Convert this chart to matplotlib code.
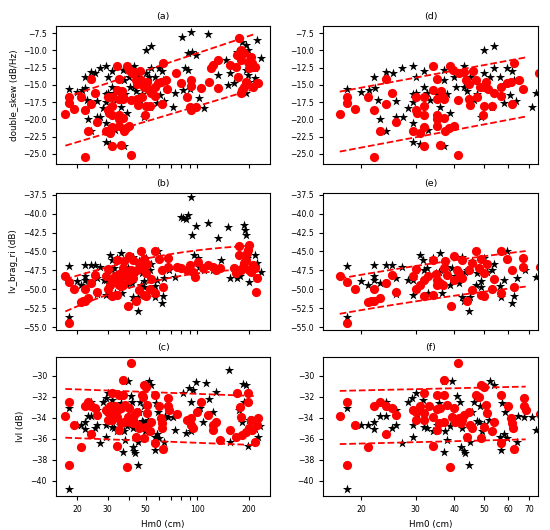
import numpy as np
import matplotlib
matplotlib.use("Agg")
import matplotlib.pyplot as plt

# ---------------- data ----------------
# panel (a)/(d): double_skew
a_star_x = [17.9, 20, 21.2, 22.0, 22.2, 22.6, 23.0, 24.0, 24.0, 25.3,
            26.0, 26.0, 27.1, 27.2, 28.3, 29.4, 29.4, 29.5, 29.5, 29.4,
            30.1, 30.1, 31.0, 32.0, 32.0, 32.6, 33.0, 33.4, 35.2, 36.1,
            37.0, 37.2, 37.2, 37.9, 38.9, 39.9, 40.7, 43.0, 43.0, 44.0,
            45.2, 46.4, 47.5, 48.8, 49.9, 49.9, 52.5, 53.1, 53.8, 54.0,
            56.6, 56.9, 58.1, 59.6, 60.7, 61.8, 62.8, 63.8, 71.8, 74.0,
            81.4, 92.2, 88.1, 93.3, 98, 85, 87.7, 82.7, 90.4, 102,
            110, 116, 131.5, 147, 151, 155, 163, 171, 183, 192,
            197, 201, 192, 197, 201, 217, 222, 234, 217, 192, 188]
a_star_y = [-15.6, -16.0, -15.7, -13.9, -15.5, -17.2, -19.9, -21.7, -13.1, -13.3,
            -17.3, -19.7, -12.6, -19.7, -18.3, -12.3, -16.3, -17.4, -20.5, -23.2,
            -13.9, -16.1, -23.5, -12.9, -15.3, -16.1, -21.5, -17.2, -16.3, -18.2,
            -12.8, -14.3, -23.8, -16.3, -19.1, -13.9, -15.3, -12.3, -15.3, -15.8,
            -13.8, -17.2, -16.3, -19.7, -9.9, -13.3, -13.9, -18.2, -9.3, -12.6,
            -13.9, -16.3, -17.6, -12.6, -16.4, -12.9, -14.3, -17.3, -18.2, -16.2,
            -7.98, -7.35, -10.4, -10.16, -10.64, -12.57, -12.82, -15.72, -15.62, -16.92,
            -18.28, -7.65, -13.54, -11.37, -15.0, -13.3, -14.75, -10.16, -8.71, -9.19,
            -9.92, -11.37, -12.82, -13.54, -14.51, -12.57, -8.47, -11.12, -14.02, -16.2, -15.33]
a_circ_x = [17.0, 17.9, 17.9, 19.0, 21.0, 22.0, 22.0, 23.0, 24.0, 24.0,
            25.2, 26.0, 29.4, 30.1, 30.1, 30.4, 31.0, 32.0, 32.0, 32.0,
            32.0, 32.0, 34.2, 34.2, 35.1, 35.1, 35.1, 35.1, 35.1, 36.1,
            36.4, 36.8, 37.0, 37.0, 37.5, 38.5, 38.9, 39.7, 39.9, 41.2,
            41.2, 41.6, 43.0, 43.9, 44.6, 44.6, 45.2, 46.2, 47.1, 47.5,
            48.6, 49.7, 49.9, 49.9, 50.9, 51.4, 53.1, 54.0, 56.9, 56.9,
            59.3, 61.4, 61.8, 62.8, 65.2, 66.9, 75.5,
            80.8, 86.8, 92.2, 92.2, 90.4, 92.2, 98, 104.3, 117.4, 120,
            123, 131.5, 131.5, 155, 167, 171, 172, 175, 179, 179,
            186, 188, 192, 197, 201, 204, 208, 211, 217, 222, 227, 183, 179]
a_circ_y = [-19.2, -16.7, -17.6, -18.5, -16.7, -18.6, -25.5, -21.6, -14.2, -17.7,
            -16.2, -20.4, -21.6, -16.8, -18.6, -19.1, -22.0, -16.8, -18.1, -19.3,
            -21.1, -23.8, -12.2, -15.7, -14.2, -17.0, -19.3, -19.9, -21.0, -23.7,
            -15.8, -16.7, -17.0, -19.8, -21.6, -21.3, -12.2, -12.8, -21.0, -25.1,
            -17.2, -13.2, -13.1, -14.3, -14.8, -17.0, -17.9, -12.9, -14.3, -16.7,
            -15.3, -19.3, -18.0, -15.3, -14.6, -15.6, -18.0, -16.2, -15.3, -16.6,
            -14.7, -14.5, -17.7, -11.8, -14.3, -15.6, -13.3,
            -14.75, -16.68, -14.27, -15.14, -18.13, -18.62, -18.13, -15.47, -14.51, -12.57,
            -12.09, -11.37, -15.47, -12.09, -12.33, -10.64, -13.78, -8.22, -9.92, -11.37,
            -10.4, -15.23, -14.51, -11.61, -12.57, -11.0, -11.85, -15.23, -12.33, -14.66,
            -14.75, -15.72, -16.2]

# panel (b)/(e): lv_brag_ri
b_star_x = [17.9, 17.9, 20, 21, 22, 22, 22, 23, 24, 25.2,
            26, 26, 27.1, 28.4, 29.4, 29.4, 30.1, 30.4, 31, 31.7,
            32, 32.6, 33, 34.2, 35, 35.8, 36.1, 36.6, 37, 37.9,
            38.9, 39.4, 40.4, 41.6, 42.4, 42.4, 43, 43.5, 44, 44.9,
            45.2, 45.8, 47.1, 47.5, 49.1, 49.1, 49.9, 51.2, 53.1, 53.8,
            56.6, 56.9, 57, 58.1, 59.3, 61.8, 62.8, 64.2, 68, 74,
            80, 82.7, 85.4, 88.5, 92.2, 93.6, 98, 95.4, 100.5, 102,
            110, 116, 131.5, 138, 151.6, 155, 171, 177, 188, 190,
            192, 195.6, 201, 183.5, 217, 222, 234, 163, 123]
b_star_y = [-46.9, -53.6, -48.9, -49.4, -46.8, -48.2, -48.8, -49.2, -46.8, -46.8,
            -48.5, -50.6, -47.1, -48.8, -48.8, -50.7, -47.4, -49.9, -45.5, -46.1,
            -47.4, -47.2, -50.5, -45.9, -47.9, -47.7, -45.2, -50.5, -47.4, -47.0,
            -49.4, -47.2, -48.3, -49.2, -45.7, -51.0, -51.6, -47.7, -47.4, -52.8,
            -51.0, -46.3, -49.4, -47.9, -48.9, -49.7, -45.9, -47.7, -47.4, -46.6,
            -49.6, -51.0, -45.0, -48.8, -45.0, -51.8, -50.9, -48.5, -47.4, -48.4,
            -40.4, -40.6, -40.75, -40.2, -37.85, -42.8, -41.7, -45.46, -45.9, -47.0,
            -47.44, -41.28, -43.26, -46.1, -41.72, -48.5, -48.5, -48.3, -41.5, -42.16,
            -42.82, -45.9, -48.98, -47.22, -45.46, -46.56, -47.66, -47.44, -47.44]
b_circ_x = [17.0, 17.9, 17.9, 19, 21, 22, 23, 22, 24, 25.2,
            26, 29.4, 30.1, 30.1, 31, 32, 32, 33, 34.2, 34.2,
            35, 35.1, 35.1, 36.1, 36.8, 37, 37.5, 37.9, 39.2, 39.9,
            39.9, 41, 41.6, 42.4, 42.4, 44, 44.6, 45.8, 45.8, 47.1,
            48.3, 49.1, 49.1, 49.9, 49.9, 51.2, 53.8, 53.1, 57, 57,
            59.6, 61.8, 62.8, 67, 67, 76, 21.5,
            80.8, 86.8, 90.4, 94.7, 96.7, 100.5, 108, 115.3, 123, 129,
            136, 175, 179, 183.5, 188, 192, 195.6, 197, 201, 206,
            211, 217, 224, 219, 171, 163, 167, 201, 175]
b_circ_y = [-48.3, -49.0, -54.5, -49.9, -51.7, -51.6, -51.2, -49.9, -49.2, -48.1,
            -50.3, -48.3, -47.35, -49.9, -49.4, -48.8, -50.9, -48.2, -46.1, -50.7,
            -48.0, -48.8, -49.4, -49.1, -49.4, -47.2, -46.2, -48.1, -52.2, -45.6,
            -48.8, -47.4, -47.9, -46.1, -48.5, -51.5, -47.4, -46.5, -50.1, -44.9,
            -47.2, -46.0, -50.8, -50.9, -47.9, -46.6, -48.6, -49.9, -45.0, -50.5,
            -46.0, -47.4, -49.7, -45.8, -47.1, -47.0, -51.6,
            -47.22, -47.44, -46.78, -47.66, -48.32, -46.34, -47.22, -46.78, -47.0, -47.44,
            -47.22, -45.46, -47.44, -47.0, -46.56, -46.12, -45.24, -44.8, -47.44, -47.66,
            -46.78, -47.22, -48.54, -50.3, -47.44, -47.22, -47.88, -44.14, -44.27]

# panel (c)/(f): lvl
c_star_x = [17.9, 17.9, 20, 21, 22, 22, 23, 24, 24, 25.2,
            26, 26, 27.1, 28.3, 29.3, 29.4, 29.4, 30.1, 30.4, 31.7,
            32, 32, 32.6, 34.2, 35.2, 35.8, 37, 37.2, 37.5, 37.9,
            38.9, 39.4, 39.9, 41, 41.8, 42, 42.4, 43, 43.3, 44.9,
            45.2, 45.8, 46.4, 47.5, 48.1, 48.7, 49.3, 49.9, 51.8, 52.5,
            53.8, 56.6, 56.9, 57.2, 58.1, 58.8, 59.6, 62.8, 64.2, 64.5,
            67.5, 71.8, 74,
            82, 85.5, 89.7, 91.8, 94.7, 98, 103.6, 113, 117.4, 129,
            153, 155, 185, 191, 197, 217, 232, 227, 175, 181,
            188, 92, 108, 123, 201]
c_star_y = [-33.1, -40.8, -34.7, -34.7, -34.4, -35.1, -33.8, -32.45, -33.8, -35.0,
            -34.7, -33.25, -36.4, -32.45, -32.1, -35.8, -34.7, -31.66, -33.6, -32.3,
            -34.9, -31.6, -35.0, -35.3, -34.7, -32.55, -37.3, -30.5, -35.3, -36.1,
            -34.8, -30.5, -34.1, -31.9, -32.45, -36.75, -35.0, -37.2, -37.4, -38.5,
            -36.3, -33.4, -32.45, -34.3, -34.4, -32.9, -35.3, -34.6, -34.2, -30.5,
            -30.9, -35.8, -37.1, -32.6, -35.5, -33.4, -35.96, -37.0, -36.3, -33.8,
            -33.9, -33.95, -35.2,
            -31.66, -35.48, -31.18, -32.45, -31.34, -30.54, -33.09, -30.7, -32.23, -31.5,
            -29.43, -36.27, -30.8, -30.86, -36.69, -35.1, -34.78, -35.8, -33.25, -34.36,
            -32.45, -35.3, -34.4, -33.4, -34.2]
c_circ_x = [17.0, 17.9, 17.9, 19, 21, 22, 23, 24, 24.1, 25.2,
            26, 29.4, 30.1, 30.1, 31, 32, 32, 32, 33.2, 34.2,
            34.2, 35.1, 35.1, 35.1, 35.8, 36.1, 37, 37, 37.2, 37.9,
            38.9, 39.4, 39.9, 40.4, 41.2, 41.6, 42, 42.4, 43, 44,
            44.6, 45.2, 45.8, 47.3, 48.1, 49.1, 49.1, 49.9, 49.9, 50.9,
            51.2, 53.1, 53.8, 56.9, 56.9, 59.9, 61.4, 61.8, 62.2, 62.8,
            67.5, 67.5, 68.4, 76,
            86.8, 92.2, 92.2, 94.7, 99, 105, 116, 123, 123, 129,
            136, 155, 171, 177, 179, 181, 192, 196, 197, 201,
            206, 208, 217, 222, 227, 167]
c_circ_y = [-33.8, -32.45, -38.5, -34.7, -36.75, -32.9, -32.45, -35.5, -32.9, -33.1,
            -33.7, -33.25, -34.2, -33.4, -32.9, -31.66, -33.57, -34.2, -32.9, -36.7,
            -33.9, -31.8, -35.16, -33.2, -34.5, -33.1, -30.4, -31.8, -34.4, -32.8,
            -38.66, -33.9, -33.1, -34.4, -28.8, -34.0, -34.5, -34.2, -33.7, -35.8,
            -33.4, -34.7, -35.0, -31.8, -31.97, -30.86, -35.96, -31.1, -34.9, -32.77,
            -33.57, -35.3, -34.4, -31.8, -36.4, -32.9, -34.0, -34.5, -35.0, -37.0,
            -32.1, -32.9, -33.25, -33.6,
            -34.2, -34.04, -34.68, -35.0, -33.41, -32.45, -33.73, -34.68, -35.16, -34.36,
            -36.11, -35.16, -31.66, -32.93, -33.89, -35.64, -35.32, -31.66, -32.45, -35.0,
            -34.2, -35.16, -36.27, -34.68, -34.04, -35.8]

# dashed band coefficients: y = c0 + c1*log10(x) + c2*log10(x)^2  (upper, lower)
band_a = [(-27.01, 8.31, 0.0), (-32.96, 7.45, 0.0)]
band_d = [(-26.05, 8.2, 0.0), (-34.99, 8.4, 0.0)]
band_b = [(-61.81, 14.18, -2.85), (-72.29, 21.40, -4.60)]
band_e = [(-60.47, 12.13, -2.0), (-65.07, 12.08, -2.0)]
band_c = [(-30.49, -0.61, 0.0), (-35.11, -0.636, 0.0)]
band_f = [(-32.26, 0.678, 0.0), (-37.42, 0.744, 0.0)]
band_range_left = (17.0, 214.0)
band_range_right = (17.0, 68.4)

titles = ["(a)", "(b)", "(c)", "(d)", "(e)", "(f)"]
ylabels = ["double_skew (dB/Hz)", "lv_brag_ri (dB)", "lvl (dB)"]
left_ticks = [20, 30, 50, 100, 200]
left_minor = [40, 60, 70, 80, 90]
right_ticks = [20, 30, 40, 50, 60, 70]
ylims = [(-26.45, -6.45), (-55.37, -37.28), (-41.46, -28.19)]
yticks = [[-25.0, -22.5, -20.0, -17.5, -15.0, -12.5, -10.0, -7.5],
          [-55.0, -52.5, -50.0, -47.5, -45.0, -42.5, -40.0, -37.5],
          [-40, -38, -36, -34, -32, -30]]

# ---------------- figure ----------------
fig = plt.figure(figsize=(5.5, 5.3), dpi=100)
lefts = [56 / 550, 323 / 550]
widths = [214 / 550, 215 / 550]
rows = [(26, 164), (193, 330), (357, 496)]

data = [(a_star_x, a_star_y, a_circ_x, a_circ_y),
        (b_star_x, b_star_y, b_circ_x, b_circ_y),
        (c_star_x, c_star_y, c_circ_x, c_circ_y)]
bands = [(band_a, band_d), (band_b, band_e), (band_c, band_f)]

TICK_FS = 5.6
LAB_FS = 6.3


def draw_band(ax, coefs, xr):
    xx = np.geomspace(xr[0], xr[1], 100)
    L = np.log10(xx)
    for c0, c1, c2 in coefs:
        ax.plot(xx, c0 + c1 * L + c2 * L ** 2, color="red", ls="--", lw=1.3, zorder=3,
                scalex=False, scaley=False)


bottom_right = None
for r in range(3):
    top, bot = rows[r]
    for col in range(2):
        ax = fig.add_axes([lefts[col], 1 - bot / 530, widths[col], (bot - top) / 530])
        sx, sy, cx, cy = data[r]
        ax.scatter(sx, sy, marker="*", s=50, color="black", linewidths=0, zorder=1)
        ax.scatter(cx, cy, marker="o", s=44, color="red", linewidths=0, zorder=2)
        ax.set_xscale("log")
        if col == 0:
            ax.set_xlim(15.0, 265.0)
            ax.set_xticks(left_ticks, labels=[str(v) for v in left_ticks])
            ax.set_xticks(left_minor, labels=[""] * len(left_minor), minor=True)
        else:
            ax.set_xlim(15.0, 75.0)
            ax.set_xticks(right_ticks, labels=[str(v) for v in right_ticks])
            ax.set_xticks([], minor=True)
        ax.set_ylim(*ylims[r])
        if r == 2:
            ax.set_yticks(yticks[r], labels=[f"{v:g}".replace("-", "\u2212") for v in yticks[r]])
        else:
            ax.set_yticks(yticks[r], labels=[f"{v:.1f}".replace("-", "\u2212") for v in yticks[r]])
        ax.tick_params(axis="both", which="both", labelsize=TICK_FS, length=3, width=0.8)
        if r < 2:
            ax.tick_params(axis="x", which="both", labelbottom=False)
        draw_band(ax, bands[r][col], band_range_left if col == 0 else band_range_right)
        if col == 0:
            ax.set_ylabel(ylabels[r], fontsize=LAB_FS)
        if r == 2:
            ax.set_xlabel("Hm0 (cm)", fontsize=LAB_FS)
            if col == 1:
                bottom_right = ax
        ax.set_title(titles[col * 3 + r], fontsize=LAB_FS + 0.5, pad=5)

# make sure every x tick label of panel (f) is actually drawn
fig.canvas.draw()
renderer = fig.canvas.get_renderer()
img = np.asarray(fig.canvas.buffer_rgba())
H, W = img.shape[0], img.shape[1]
ref = [t for t in bottom_right.get_xticklabels() if t.get_text() == "30"]
if ref:
    bb = ref[0].get_window_extent(renderer)
    yc = 0.5 * (bb.y0 + bb.y1)
    for v in right_ticks:
        xd = bottom_right.transData.transform((v, ylims[2][0]))[0]
        r0, r1 = int(H - bb.y1), int(H - bb.y0) + 1
        c0, c1 = int(xd - 3), int(xd + 4)
        region = img[max(r0, 0):min(r1, H), max(c0, 0):min(c1, W), :3]
        if region.size == 0 or region.min() > 150:
            fig.text(xd / W, yc / H, str(v), ha="center", va="center", fontsize=TICK_FS)

fig.savefig("out.png", dpi=100)
